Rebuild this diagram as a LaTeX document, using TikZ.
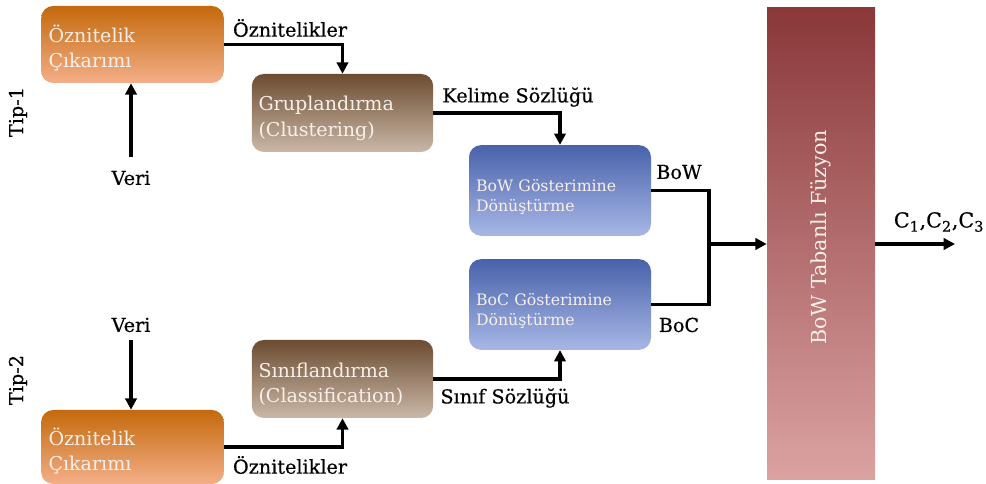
\documentclass[tikz,border=0pt]{standalone}
\usepackage{fontspec}
\setmainfont{DejaVu Serif}
\newfontface\lblface{DejaVu Serif}[FakeBold=0.5]
\usetikzlibrary{arrows.meta}
\definecolor{orTop}{HTML}{C4690C}
\definecolor{orBot}{HTML}{F4AF88}
\definecolor{brTop}{HTML}{6C4C31}
\definecolor{brBot}{HTML}{CAB8A8}
\definecolor{blTop}{HTML}{4862AA}
\definecolor{blBot}{HTML}{A8B7E6}
\definecolor{rdTop}{HTML}{8A383A}
\definecolor{rdBot}{HTML}{DBA2A2}
\definecolor{boxtext}{HTML}{F7F0EA}
\begin{document}
\begin{tikzpicture}[x=0.75pt,y=-0.75pt,
  box/.style={rounded corners=9pt, inner sep=0pt, text=boxtext, align=left,
    font=\fontsize{14.3}{19}\selectfont, execute at begin node={\rule{0pt}{19pt}}},
  orbox/.style={box, top color=orTop, bottom color=orBot, minimum width=137pt, text width=126pt},
  brbox/.style={box, top color=brTop, bottom color=brBot, minimum width=136pt, minimum height=58.5pt, text width=126pt},
  blbox/.style={box, top color=blTop, bottom color=blBot, minimum width=136.5pt, minimum height=68pt, text width=126pt,
    font=\fontsize{11.8}{15.5}\selectfont, execute at begin node={\rule{0pt}{13pt}}},
  lbl/.style={font=\lblface\fontsize{14.4}{16}\selectfont, inner sep=1pt},
  conn/.style={line width=2.3pt, -{Triangle[length=8.5pt,width=8.5pt]}},
  joinline/.style={line width=2.3pt}
]
\useasboundingbox (0,0) rectangle (986,484);

% processing boxes
\node[orbox, minimum height=57.75pt] (o1) at (132.5,44.5) {Öznitelik\\Çıkarımı};
\node[brbox] (g1) at (342.5,113) {Gruplandırma\\(Clustering)};
\node[blbox] (bow) at (560,190.5) {BoW Gösterimine\\Dönüştürme};
\node[blbox] (boc) at (560,304.5) {BoC Gösterimine\\Dönüştürme};
\node[brbox] (s1) at (342.5,379) {Sınıflandırma\\(Classification)};
\node[orbox, minimum height=55.5pt] (o2) at (132.5,447) {Öznitelik\\Çıkarımı};

% fusion block
\node[top color=rdTop, bottom color=rdBot, minimum width=81pt, minimum height=354pt,
  inner sep=0pt] (fus) at (821,244) {};
\node[rotate=90, text=boxtext, font=\fontsize{15.5}{17}\selectfont] (fust) at (821,237) {BoW Tabanlı Füzyon};

% side labels
\node[rotate=90, lbl] (t1) at (18,112) {Tip-1};
\node[rotate=90, lbl] (t2) at (18,380) {Tip-2};

% inputs
\node[lbl] (v1) at (131,178) {Veri};
\node[lbl] (v2) at (131,325) {Veri};
\draw[conn] ([yshift=9pt]v1.north) -- (v1.north |- o1.south);
\draw[conn] ([yshift=-5pt]v2.south) -- (v2.south |- o2.north);

% Tip-1 chain
\draw[conn] (o1.east) -| (g1.north);
\node[lbl] (f1) at (290,28) {Öznitelikler};
\draw[conn] (g1.east) -| (bow.north);
\node[lbl] (k1) at (518,97) {Kelime Sözlüğü};

% Tip-2 chain
\draw[conn] (o2.east) -| (s1.south);
\node[lbl] (f2) at (290,465) {Öznitelikler};
\draw[conn] (s1.east) -| (boc.south);
\node[lbl] (k2) at (505,398) {Sınıf Sözlüğü};

% merge into fusion
\coordinate (jn) at (709,244);
\draw[joinline] (bow.east) -| (jn) |- (boc.east);
\draw[conn] ([xshift=-1.15pt]jn) -- (fus.west);
\node[lbl] (bwl) at (679,172) {BoW};
\node[lbl] (bcl) at (679,325) {BoC};

% output
\coordinate (out) at (955,244);
\draw[conn] (fus.east) -- (out);
\node[lbl, font=\lblface\fontsize{15.5}{17}\selectfont] (cl) at (939,222) {C\textsubscript{1},C\textsubscript{2},C\textsubscript{3}};
\end{tikzpicture}
\end{document}
